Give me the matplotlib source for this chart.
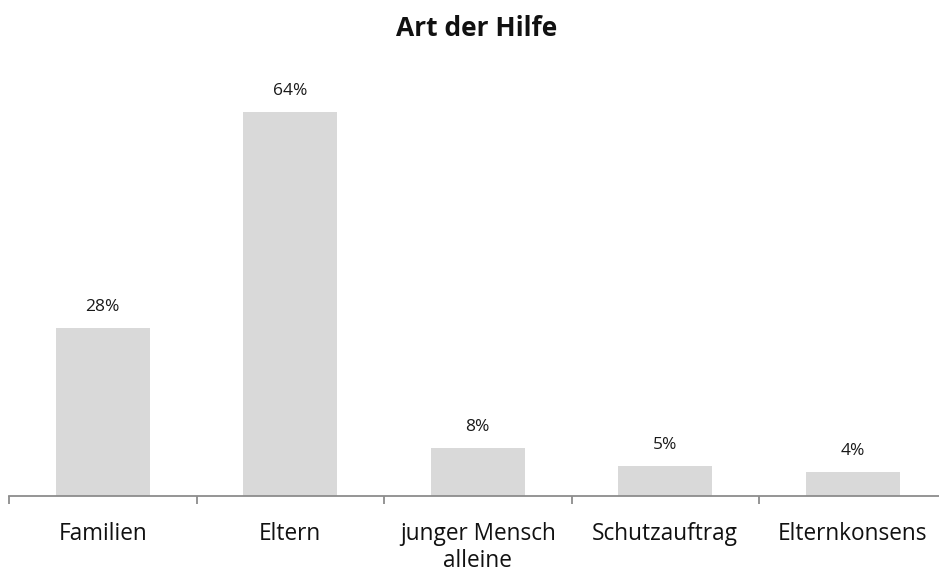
import matplotlib
matplotlib.use("Agg")
import matplotlib.pyplot as plt

categories = ["Familien", "Eltern", "junger Mensch\nalleine", "Schutzauftrag", "Elternkonsens"]
values = [28, 64, 8, 5, 4]
title = "Art der Hilfe"

plt.rcParams["font.family"] = ["Open Sans", "DejaVu Sans"]

fig = plt.figure(figsize=(9.39, 5.78), dpi=100)
W, H = 939, 578
left, right = 9, 946.5
base, top = 496, 76
ax = fig.add_axes([left / W, (H - base) / H, (right - left) / W, (base - top) / H])

x = list(range(len(categories)))
ax.bar(x, values, width=0.5, color="#d9d9d9", zorder=2)
ax.set_xlim(-0.5, len(categories) - 0.5)
ax.set_ylim(0, 70)

for xi, v in zip(x, values):
    ax.annotate(f"{v}%", (xi, v), xytext=(0, 12.2), textcoords="offset points",
                ha="center", va="baseline", fontsize=12.5, color="#1a1a1a")

for s in ["top", "right", "left"]:
    ax.spines[s].set_visible(False)
ax.spines["bottom"].set_color("#8c8c8c")
ax.spines["bottom"].set_linewidth(1.3)
ax.set_yticks([])

ax.set_xticks([i - 0.5 for i in range(len(categories) + 1)], minor=False)
ax.set_xticklabels([])
ax.tick_params(axis="x", which="major", length=6, width=1.3, color="#8c8c8c")
ax.set_xticks(x, minor=True)
ax.set_xticklabels(categories, minor=True, fontsize=16.3, color="#111111",
                   linespacing=1.12)
ax.tick_params(axis="x", which="minor", length=0, pad=19)

fig.text(477 / W, 1 - 36 / H, title, ha="center", va="baseline",
         fontsize=19, fontweight="bold", color="#111111")

fig.savefig("out.png", dpi=100)
